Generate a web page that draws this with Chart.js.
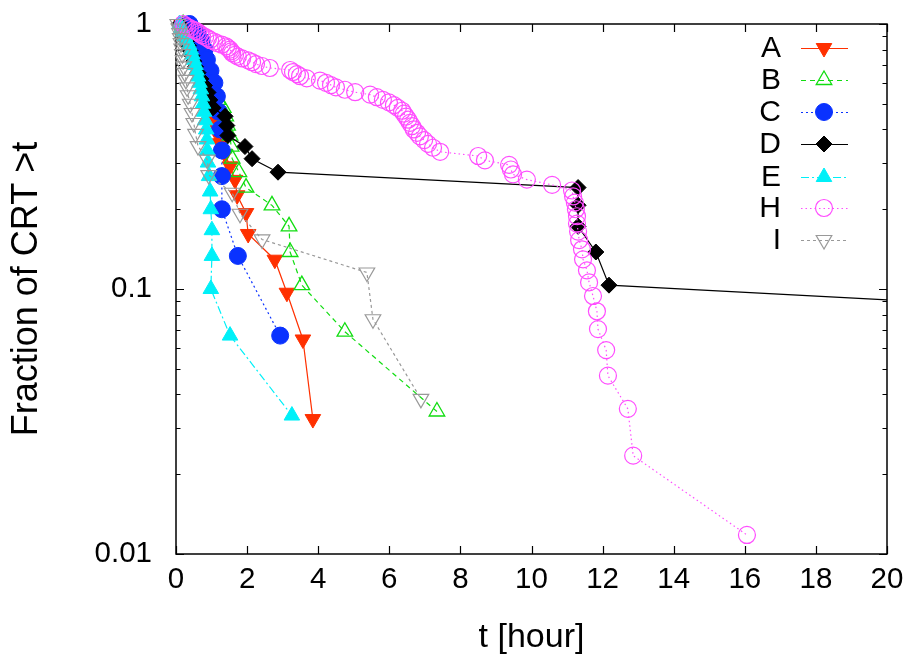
<!DOCTYPE html>
<html>
<head>
<meta charset="utf-8">
<script src="https://cdn.jsdelivr.net/npm/chart.js@4.4.1/dist/chart.umd.min.js"></script>
<style>
  html, body { margin: 0; padding: 0; background: #fff; }
  canvas { display: block; }
</style>
</head>
<body>
<canvas id="crt" width="912" height="658"></canvas>
<script>
// survival fraction of CRT
const aX = [0.15, 0.2, 0.25, 0.3, 0.35, 0.4, 0.45, 0.5, 0.55, 0.6, 0.65, 0.7, 0.75, 0.8, 0.85, 0.9, 0.95, 1.02, 1.08, 1.15, 1.24, 1.38, 1.52, 1.66, 1.72, 1.97, 2.03, 2.78, 3.12, 3.57, 3.85]
const aY = [1, 0.9677, 0.9355, 0.9032, 0.871, 0.8387, 0.8065, 0.7742, 0.7419, 0.7097, 0.6774, 0.6452, 0.6129, 0.5806, 0.5484, 0.5161, 0.4839, 0.4516, 0.4194, 0.3871, 0.3548, 0.3226, 0.2903, 0.2581, 0.2258, 0.1935, 0.1613, 0.129, 0.0968, 0.0645, 0.0323]

const bX = [0.2, 0.3, 0.35, 0.4, 0.45, 0.5, 0.55, 0.6, 0.68, 0.76, 0.84, 0.92, 1.0, 1.08, 1.18, 1.33, 1.4, 1.45, 1.52, 1.55, 1.58, 1.77, 1.97, 2.7, 3.18, 3.21, 3.54, 4.75, 7.34]
const bY = [1, 0.9655, 0.931, 0.8966, 0.8621, 0.8276, 0.7931, 0.7586, 0.7241, 0.6897, 0.6552, 0.6207, 0.5862, 0.5517, 0.5172, 0.4828, 0.4483, 0.4138, 0.3793, 0.3448, 0.3103, 0.2759, 0.2414, 0.2069, 0.1724, 0.1379, 0.1034, 0.069, 0.0345]

const cX = [0.38, 0.6, 0.72, 0.8, 0.87, 0.97, 1.08, 1.15, 1.2, 1.24, 1.29, 1.29, 1.29, 1.74, 2.93]
const cY = [1, 0.9333, 0.8667, 0.8, 0.7333, 0.6667, 0.6, 0.5333, 0.4667, 0.4, 0.3333, 0.2667, 0.2, 0.1333, 0.0667]

const dX = [0.1, 0.15, 0.2, 0.25, 0.3, 0.35, 0.4, 0.45, 0.5, 0.55, 0.62, 0.7, 0.8, 0.9, 0.95, 1.04, 1.38, 1.43, 1.46, 1.94, 2.14, 2.87, 11.31, 11.31, 11.31, 11.81, 12.18, 37]
const dY = [1, 0.9655, 0.931, 0.8966, 0.8621, 0.8276, 0.7931, 0.7586, 0.7241, 0.6897, 0.6552, 0.6207, 0.5862, 0.5517, 0.5172, 0.4828, 0.4483, 0.4138, 0.3793, 0.3448, 0.3103, 0.2759, 0.2414, 0.2069, 0.1724, 0.1379, 0.1034, 0.069]

const eX = [0.1, 0.15, 0.2, 0.25, 0.3, 0.37, 0.42, 0.46, 0.5, 0.55, 0.58, 0.62, 0.66, 0.7, 0.73, 0.76, 0.79, 0.82, 0.85, 0.87, 0.88, 0.9, 0.93, 0.96, 0.98, 1.01, 1.01, 0.98, 1.52, 3.26]
const eY = [1, 0.9667, 0.9333, 0.9, 0.8667, 0.8333, 0.8, 0.7667, 0.7333, 0.7, 0.6667, 0.6333, 0.6, 0.5667, 0.5333, 0.5, 0.4667, 0.4333, 0.4, 0.3667, 0.3333, 0.3, 0.2667, 0.2333, 0.2, 0.1667, 0.1333, 0.1, 0.0667, 0.0333]

const hX = [0.2, 0.25, 0.31, 0.39, 0.48, 0.56, 0.62, 0.68, 0.73, 0.82, 0.9, 0.96, 1.07, 1.15, 1.29, 1.41, 1.46, 1.52, 1.55, 1.58, 1.66, 1.74, 1.86, 2.03, 2.14, 2.25, 2.42, 2.64, 3.21, 3.29, 3.4, 3.49, 3.68, 4.05, 4.22, 4.36, 4.5, 4.75, 5.04, 5.46, 5.65, 5.82, 5.99, 6.13, 6.24, 6.36, 6.41, 6.47, 6.53, 6.58, 6.64, 6.69, 6.78, 6.86, 6.98, 7.09, 7.23, 7.43, 8.5, 8.69, 9.37, 9.42, 9.48, 9.87, 10.58, 11.14, 11.17, 11.22, 11.25, 11.28, 11.28, 11.31, 11.34, 11.42, 11.45, 11.56, 11.62, 11.73, 11.84, 11.87, 12.1, 12.15, 12.71, 12.86, 16.06]
const hY = [1, 0.9882, 0.9765, 0.9647, 0.9529, 0.9412, 0.9294, 0.9176, 0.9059, 0.8941, 0.8824, 0.8706, 0.8588, 0.8471, 0.8353, 0.8235, 0.8118, 0.8, 0.7882, 0.7765, 0.7647, 0.7529, 0.7412, 0.7294, 0.7176, 0.7059, 0.6941, 0.6824, 0.6706, 0.6588, 0.6471, 0.6353, 0.6235, 0.6118, 0.6, 0.5882, 0.5765, 0.5647, 0.5529, 0.5412, 0.5294, 0.5176, 0.5059, 0.4941, 0.4824, 0.4706, 0.4588, 0.4471, 0.4353, 0.4235, 0.4118, 0.4, 0.3882, 0.3765, 0.3647, 0.3529, 0.3412, 0.3294, 0.3176, 0.3059, 0.2941, 0.2824, 0.2706, 0.2588, 0.2471, 0.2353, 0.2235, 0.2118, 0.2, 0.1882, 0.1765, 0.1647, 0.1529, 0.1412, 0.1294, 0.1176, 0.1059, 0.0941, 0.0824, 0.0706, 0.0588, 0.0471, 0.0353, 0.0235, 0.0118]

const iX = [0.05, 0.08, 0.1, 0.12, 0.14, 0.16, 0.18, 0.2, 0.22, 0.25, 0.28, 0.31, 0.34, 0.4, 0.45, 0.5, 0.55, 0.62, 0.88, 0.92, 1.58, 1.8, 2.42, 5.37, 5.54, 6.89]
const iY = [1, 0.9615, 0.9231, 0.8846, 0.8462, 0.8077, 0.7692, 0.7308, 0.6923, 0.6538, 0.6154, 0.5769, 0.5385, 0.5, 0.4615, 0.4231, 0.3846, 0.3462, 0.3077, 0.2692, 0.2308, 0.1923, 0.1538, 0.1154, 0.0769, 0.0385]

const xTicks = [0, 2, 4, 6, 8, 10, 12, 14, 16, 18, 20]
const yTicks = [0.01, 0.02, 0.03, 0.04, 0.05, 0.06, 0.07, 0.08, 0.09, 0.1, 0.2, 0.3, 0.4, 0.5, 0.6, 0.7, 0.8, 0.9, 1]
const yLabels = { 1: "1", 0.1: "0.1", 0.01: "0.01" }

const FONT = "'Liberation Sans', Arial, Helvetica, sans-serif"
const CLEAR = "rgba(0,0,0,0)"

function pts(xs, ys) {
  return xs.map((x, i) => ({ x: x, y: ys[i] }))
}

function series(label, xs, ys, color, style) {
  return Object.assign({
    label: label,
    data: pts(xs, ys),
    showLine: true,
    borderColor: color,
    borderWidth: 1.2,
    pointBorderColor: color,
    pointBackgroundColor: color,
    pointBorderWidth: 1,
    pointRadius: 9,
    pointStyle: "triangle",
    pointRotation: 0,
    borderDash: [],
    clip: { left: 20, top: 20, right: 0, bottom: 0 }
  }, style)
}

const datasets = [
  series("A", aX, aY, "#ff3000", { pointRotation: 180, order: 7 }),
  series("B", bX, bY, "#11dd11", { pointBackgroundColor: CLEAR, pointBorderWidth: 1.3, borderDash: [5, 4], order: 6 }),
  series("C", cX, cY, "#0a32ff", { pointStyle: "circle", pointRadius: 8.5, borderDash: [2, 3], order: 5 }),
  series("D", dX, dY, "#000000", { pointStyle: "rectRot", pointRadius: 8, order: 4 }),
  series("E", eX, eY, "#00f0f8", { borderDash: [8, 3, 2, 3], order: 3 }),
  series("H", hX, hY, "#ff4dff", { pointStyle: "circle", pointRadius: 8.5, pointBackgroundColor: CLEAR, pointBorderWidth: 1.2, borderDash: [1.5, 3], order: 2 }),
  series("I", iX, iY, "#999999", { pointRotation: 180, pointBackgroundColor: CLEAR, pointBorderWidth: 1.2, borderDash: [3, 3], order: 1 })
]

// gnuplot-like frame with inward ticks on all four sides
const frameTicks = {
  id: "frameTicks",
  beforeDatasetsDraw(chart) {
    const { ctx, chartArea: a, scales } = chart
    ctx.save()
    ctx.strokeStyle = "#000"
    ctx.lineWidth = 1.5
    ctx.strokeRect(a.left, a.top, a.right - a.left, a.bottom - a.top)
    ctx.lineWidth = 1.2
    ctx.beginPath()
    xTicks.forEach(v => {
      const px = Math.round(scales.x.getPixelForValue(v)) + 0.5
      ctx.moveTo(px, a.bottom); ctx.lineTo(px, a.bottom - 8)
      ctx.moveTo(px, a.top); ctx.lineTo(px, a.top + 8)
    })
    yTicks.forEach(v => {
      const py = Math.round(scales.y.getPixelForValue(v)) + 0.5
      const len = yLabels[v] ? 8 : 4.5
      ctx.moveTo(a.left, py); ctx.lineTo(a.left + len, py)
      ctx.moveTo(a.right, py); ctx.lineTo(a.right - len, py)
    })
    ctx.stroke()
    ctx.restore()
  }
}

// key in the top right: label, then a line sample with its marker
const keyBox = {
  id: "keyBox",
  afterDatasetsDraw(chart) {
    const { ctx } = chart
    const rowY = [48, 80, 112, 144, 177, 208, 240]
    const textX = 781, lineL = 801, lineR = 848, markX = 824
    ctx.save()
    chart.data.datasets.forEach((ds, i) => {
      const y = rowY[i]
      ctx.fillStyle = "#000"
      ctx.font = "30px " + FONT
      ctx.textAlign = "right"
      ctx.textBaseline = "middle"
      ctx.fillText(ds.label, textX, y + 1)
      ctx.strokeStyle = ds.borderColor
      ctx.lineWidth = ds.borderWidth
      ctx.setLineDash(ds.borderDash)
      ctx.beginPath()
      ctx.moveTo(lineL, y + 0.5); ctx.lineTo(lineR, y + 0.5)
      ctx.stroke()
      ctx.setLineDash([])
      ctx.fillStyle = ds.pointBackgroundColor
      ctx.strokeStyle = ds.pointBorderColor
      ctx.lineWidth = ds.pointBorderWidth
      Chart.helpers.drawPoint(ctx, {
        pointStyle: ds.pointStyle,
        rotation: ds.pointRotation,
        radius: ds.pointRadius,
        borderWidth: ds.pointBorderWidth
      }, markX, y)
    })
    ctx.restore()
  }
}

new Chart(document.getElementById("crt"), {
  type: "scatter",
  data: { datasets: datasets },
  options: {
    responsive: false,
    animation: false,
    layout: { padding: { top: 24, right: 25, left: 0, bottom: 0 } },
    plugins: { legend: { display: false }, tooltip: { enabled: false } },
    scales: {
      x: {
        type: "linear",
        min: 0,
        max: 20,
        afterBuildTicks: s => { s.ticks = xTicks.map(v => ({ value: v })) },
        afterFit: s => { s.height = 104 },
        grid: { display: false, drawTicks: true, tickLength: 8 },
        border: { display: false },
        ticks: { color: "#000", font: { family: FONT, size: 29.5 }, padding: 0, autoSkip: false, maxRotation: 0 },
        title: { display: true, text: "t [hour]", color: "#000", font: { family: FONT, size: 34, lineHeight: 1.2 }, padding: 0 }
      },
      y: {
        type: "logarithmic",
        min: 0.01,
        max: 1,
        afterBuildTicks: s => { s.ticks = yTicks.map(v => ({ value: v })) },
        afterFit: s => { s.width = 176 },
        grid: { display: false, drawTicks: true, tickLength: 24 },
        border: { display: false },
        ticks: {
          color: "#000",
          font: { family: FONT, size: 29.5 },
          padding: 0,
          autoSkip: false,
          callback: v => yLabels[v] || ""
        },
        title: { display: true, text: "Fraction of CRT >t", color: "#000", font: { family: FONT, size: 36, lineHeight: 1.5 }, padding: 0 }
      }
    }
  },
  plugins: [frameTicks, keyBox]
})
</script>
</body>
</html>
